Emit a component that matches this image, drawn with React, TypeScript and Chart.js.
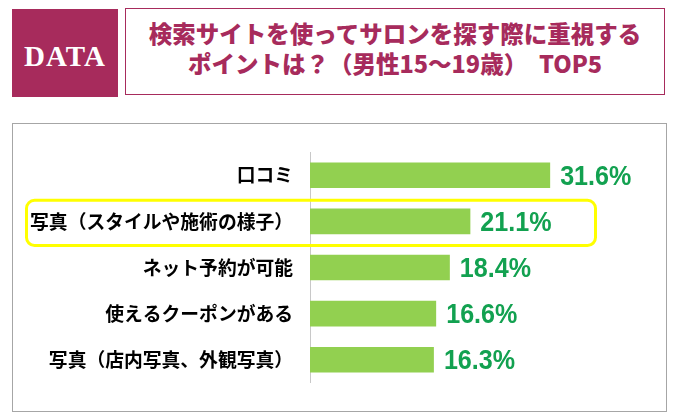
import React, { useEffect, useRef } from "react";
import { Chart, registerables } from "chart.js";

Chart.register(...registerables);

const badgeText = "DATA";
const titleLines = [
  "検索サイトを使ってサロンを探す際に重視する",
  "ポイントは？（男性15～19歳）　TOP5",
];
const categories = [
  "口コミ",
  "写真（スタイルや施術の様子）",
  "ネット予約が可能",
  "使えるクーポンがある",
  "写真（店内写真、外観写真）",
];
const values = [31.6, 21.1, 18.4, 16.6, 16.3];
const valueLabels = ["31.6%", "21.1%", "18.4%", "16.6%", "16.3%"];
const highlightIndex = 1;

const MAGENTA = "#A72B5C";
const BAR_GREEN = "#92D050";
const TEXT_GREEN = "#12A150";
const CJK = "'Noto Sans CJK JP', 'Noto Sans', sans-serif";

export default function App() {
  const canvasRef = useRef<HTMLCanvasElement | null>(null);

  useEffect(() => {
    const canvas = canvasRef.current;
    if (!canvas) return;

    const valueLabelPlugin = {
      id: "valueLabels",
      afterDatasetsDraw(chart: any) {
        const ctx = chart.ctx;
        const meta = chart.getDatasetMeta(0);
        const size = 27;
        const sx = 0.93;
        meta.data.forEach((bar: any, i: number) => {
          ctx.save();
          ctx.translate(bar.x + 10, bar.y + size * 0.716 / 2);
          ctx.scale(sx, 1);
          ctx.fillStyle = TEXT_GREEN;
          ctx.font = `bold ${size}px 'Liberation Sans', Arial, sans-serif`;
          ctx.textAlign = "left";
          ctx.textBaseline = "alphabetic";
          ctx.fillText(valueLabels[i], 0, 0);
          ctx.restore();
        });
      },
    };

    const highlightPlugin = {
      id: "highlight",
      afterDraw(chart: any) {
        const ctx = chart.ctx;
        const ys = chart.scales.y;
        const yc = ys.getPixelForValue(highlightIndex) + 1.5;
        const half = Math.abs(ys.getPixelForValue(1) - ys.getPixelForValue(0)) / 2 - 0.5;
        const left = 13.5;
        const right = chart.chartArea.right - 18.5;
        const top = yc - half;
        const h = half * 2;
        ctx.save();
        ctx.strokeStyle = "#FFFF00";
        ctx.lineWidth = 3;
        ctx.beginPath();
        if ((ctx as any).roundRect) {
          (ctx as any).roundRect(left, top, right - left, h, 8);
        } else {
          ctx.rect(left, top, right - left, h);
        }
        ctx.stroke();
        ctx.restore();
      },
    };

    const chart = new Chart(canvas, {
      type: "bar",
      data: {
        labels: categories,
        datasets: [
          {
            data: values,
            backgroundColor: BAR_GREEN,
            borderWidth: 0,
            categoryPercentage: 1,
            barPercentage: 0.555,
          },
        ],
      },
      options: {
        indexAxis: "y",
        responsive: false,
        animation: false,
        devicePixelRatio: 1,
        layout: { padding: { top: 4, bottom: 8, right: 52, left: 0 } },
        plugins: {
          legend: { display: false },
          tooltip: { enabled: false },
        },
        scales: {
          x: { display: false, min: 0, max: 40 },
          y: {
            grid: { display: false, drawTicks: false },
            border: { display: true, color: "#C8C8C8", width: 1 },
            ticks: {
              color: "#000000",
              padding: 17,
              font: { family: CJK, size: 18.8, weight: "bold" },
            },
            afterFit(scale: any) {
              scale.width = 297;
            },
          },
        },
      },
      plugins: [valueLabelPlugin, highlightPlugin],
    } as any);

    return () => chart.destroy();
  }, []);

  return (
    <div
      style={{
        position: "absolute",
        left: 0,
        top: 0,
        width: 677,
        height: 417,
        background: "#ffffff",
        overflow: "hidden",
      }}
    >
      <div
        style={{
          position: "absolute",
          left: 12,
          top: 9,
          width: 106,
          height: 88,
          background: MAGENTA,
          color: "#ffffff",
          fontFamily: "'Liberation Serif', 'DejaVu Serif', serif",
          fontWeight: "bold",
          fontSize: 29,
          letterSpacing: 1,
          display: "flex",
          alignItems: "center",
          justifyContent: "center",
          paddingTop: 6,
          boxSizing: "border-box",
        }}
      >
        {badgeText}
      </div>
      <div
        style={{
          position: "absolute",
          left: 125,
          top: 8,
          width: 540,
          height: 87,
          border: `1.5px solid ${MAGENTA}`,
          boxSizing: "border-box",
        }}
      >
        {titleLines.map((line, i) => (
          <div
            key={i}
            style={{
              position: "absolute",
              left: 0,
              right: 0,
              top: 9 + i * 30,
              height: 30,
              lineHeight: "30px",
              textAlign: "center",
              color: MAGENTA,
              fontFamily: CJK,
              fontWeight: 900,
              fontSize: 23.5,
              whiteSpace: "nowrap",
            }}
          >
            {line}
          </div>
        ))}
      </div>
      <div
        style={{
          position: "absolute",
          left: 12,
          top: 123,
          width: 655,
          height: 289,
          border: "1px solid #A6A6A6",
          boxSizing: "border-box",
        }}
      >
        <canvas
          ref={canvasRef}
          width={653}
          height={287}
          style={{ display: "block", width: 653, height: 287 }}
        />
      </div>
    </div>
  );
}
